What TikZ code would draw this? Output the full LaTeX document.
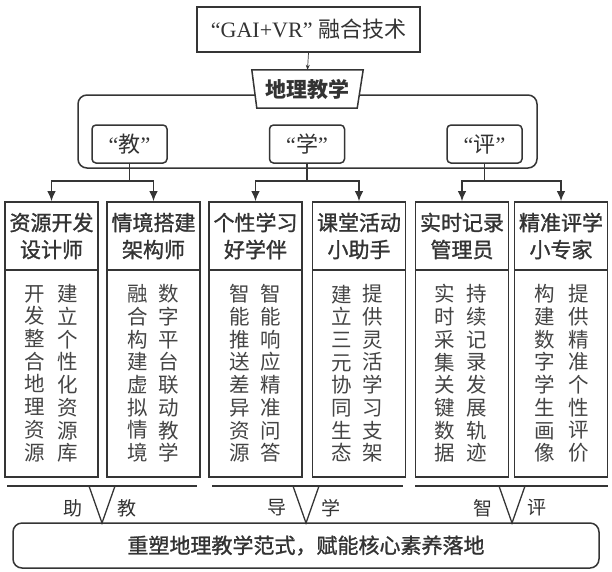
\documentclass[tikz,border=0pt]{standalone}
\usepackage{fontspec}
\setmainfont{Liberation Serif}
\newfontfamily\cjk{Noto Sans CJK SC}
\newfontfamily\cjkb[FakeBold=1.2]{Noto Sans CJK SC}
\usetikzlibrary{arrows.meta}
\definecolor{lc}{HTML}{353535}
\definecolor{tc}{HTML}{333333}
\definecolor{bc}{HTML}{444444}
\tikzset{
  ln/.style={draw=lc, line width=1.5pt},
  thinarr/.style={draw=lc, line width=0.7pt, -{Stealth[length=5pt,width=4pt]}},
  arr/.style={draw=lc, line width=1.5pt, -{Latex[length=10pt,width=8.5pt]}},
  topbox/.style={draw=lc, line width=1.5pt, minimum width=223pt, minimum height=45pt, inner sep=0pt, text=tc, font=\fontsize{22}{26}\selectfont},
  roundbox/.style={draw=lc, line width=1.5pt, rounded corners=4pt, minimum width=75pt, minimum height=38pt, inner sep=0pt, text=tc, font=\fontsize{22}{26}\selectfont},
  titlebox/.style={draw=lc, line width=1.7pt, minimum width=93pt, minimum height=68pt, inner sep=0pt, align=center, text=tc, font=\cjkb\fontsize{21}{27}\selectfont},
  bodybox/.style={draw=lc, line width=1.5pt, minimum width=93pt, minimum height=207pt, inner sep=0pt},
  colt/.style={align=center, inner sep=0pt, text=bc, font=\cjk\fontsize{20.5}{22.7}\selectfont},
  side/.style={inner sep=0pt, text=tc, font=\cjk\fontsize{19}{22}\selectfont},
  baseline/.style={draw=lc, line width=2.5pt},
  vline/.style={draw=lc, line width=1.3pt},
}
\begin{document}
\begin{tikzpicture}[x=1pt,y=-1pt]
\fill[white] (0,0) rectangle (612,571);
\useasboundingbox (0,0) rectangle (612,571);

% top
\node[topbox] (top) at (308.5,29.5) {“GAI+VR” {\cjk 融合技术}};

% frame
\node[draw=lc, line width=1.5pt, rounded corners=9pt, minimum width=459pt, minimum height=73pt, inner sep=0pt] (frame) at (307.5,131.5) {};

% trapezoid
\node[minimum width=111pt, minimum height=38pt, inner sep=0pt] (geo) at (307.5,89) {};
\draw[ln, fill=white] (geo.north west) -- (geo.north east) -- ([xshift=-6pt]geo.south east) -- ([xshift=5pt]geo.south west) -- cycle;
\node[text=tc, font=\cjk\bfseries\fontsize{21}{25}\selectfont] at (geo.center) {地理教学};
\draw[thinarr] (top.south) -- (geo.north);

% three small boxes
\node[roundbox] (jiao) at (129.5,144) {“{\cjk 教}”};
\node[roundbox] (xue) at (307,144) {“{\cjk 学}”};
\node[roundbox] (ping) at (484.5,144) {“{\cjk 评}”};

% title boxes
\node[titlebox] (t1) at (51.5,236) {资源开发\\设计师};
\node[titlebox] (t2) at (153.5,236) {情境搭建\\架构师};
\node[titlebox] (t3) at (255.5,236) {个性学习\\好学伴};
\node[titlebox] (t4) at (359,236) {课堂活动\\小助手};
\node[titlebox] (t5) at (462,236) {实时记录\\管理员};
\node[titlebox] (t6) at (561,236) {精准评学\\小专家};

% body boxes
\node[bodybox] (c1) at (51.5,373.5) {};
\node[bodybox] (c2) at (153.5,373.5) {};
\node[bodybox] (c3) at (255.5,373.5) {};
\node[bodybox] (c4) at (359,373.5) {};
\node[bodybox] (c5) at (462,373.5) {};
\node[bodybox] (c6) at (561,373.5) {};

\node[colt] at ([xshift=-16.5pt]c1.center) {开\\发\\整\\合\\地\\理\\资\\源};
\node[colt] at ([xshift=16.5pt]c1.center) {建\\立\\个\\性\\化\\资\\源\\库};
\node[colt] at ([xshift=-16pt]c2.center) {融\\合\\构\\建\\虚\\拟\\情\\境};
\node[colt] at ([xshift=15pt]c2.center) {数\\字\\平\\台\\联\\动\\教\\学};
\node[colt] at ([xshift=-16pt]c3.center) {智\\能\\推\\送\\差\\异\\资\\源};
\node[colt] at ([xshift=15pt]c3.center) {智\\能\\响\\应\\精\\准\\问\\答};
\node[colt] at ([xshift=-17pt]c4.center) {建\\立\\三\\元\\协\\同\\生\\态};
\node[colt] at ([xshift=14pt]c4.center) {提\\供\\灵\\活\\学\\习\\支\\架};
\node[colt] at ([xshift=-17pt]c5.center) {实\\时\\采\\集\\关\\键\\数\\据};
\node[colt] at ([xshift=15pt]c5.center) {持\\续\\记\\录\\发\\展\\轨\\迹};
\node[colt] at ([xshift=-16pt]c6.center) {构\\建\\数\\字\\学\\生\\画\\像};
\node[colt] at ([xshift=18pt]c6.center) {提\\供\\精\\准\\个\\性\\评\\价};

% connectors
\coordinate (sp) at (0,181);
\draw[ln] (jiao.south) -- (jiao.south |- sp);
\draw[arr] (jiao.south |- sp) -| (t1.north);
\draw[arr] (jiao.south |- sp) -| (t2.north);
\draw[ln] (xue.south) -- (xue.south |- sp);
\draw[arr] (xue.south |- sp) -| (t3.north);
\draw[arr] (xue.south |- sp) -| (t4.north);
\draw[ln] (ping.south) -- (ping.south |- sp);
\draw[arr] (ping.south |- sp) -| (t5.north);
\draw[arr] (ping.south |- sp) -| (t6.north);

% bottom
\node[draw=lc, line width=1.5pt, rounded corners=9pt, minimum width=586pt, minimum height=45pt, inner sep=0pt, text=tc, font=\cjkb\fontsize{21}{25}\selectfont] (final) at (306,545.5) {重塑地理教学范式，赋能核心素养落地};

\draw[baseline] (7,486) -- (197,486);
\draw[baseline] (212,486) -- (403,486);
\draw[baseline] (415,486) -- (608,486);

\draw[vline] (89,486) -- (102,523) -- (115,486);
\draw[vline] (293,486) -- (306,523) -- (319,486);
\draw[vline] (499,486) -- (512,523) -- (525,486);

\node[side] at (73,508) {助};
\node[side] at (127,508) {教};
\node[side] at (277,508) {导};
\node[side] at (331,508) {学};
\node[side] at (483,508) {智};
\node[side] at (537,508) {评};
\end{tikzpicture}
\end{document}
